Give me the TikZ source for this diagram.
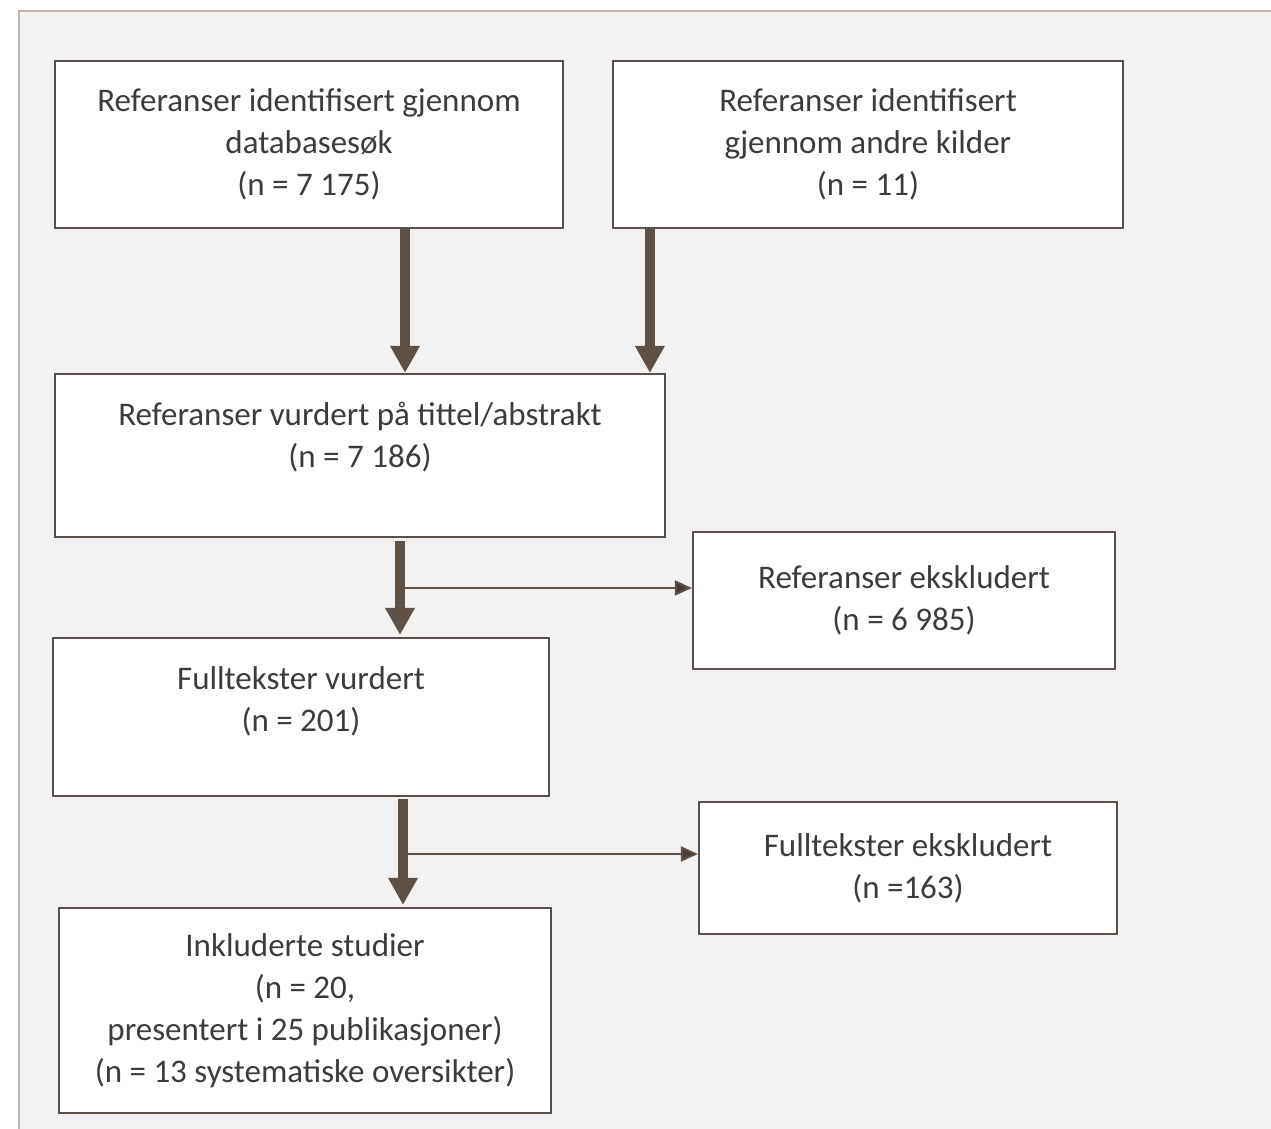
\documentclass[tikz,border=0pt]{standalone}
\usepackage{fontspec}
\setmainfont{Carlito}
\usepackage{xcolor}
\usepackage{tikz}
\definecolor{boxline}{RGB}{91, 79, 73}
\definecolor{arrowbrown}{RGB}{95, 80, 70}
\definecolor{tipbrown}{RGB}{74, 60, 52}
\definecolor{panelgray}{RGB}{242, 242, 242}
\definecolor{frameline}{RGB}{196, 180, 173}
\definecolor{textgray}{RGB}{60, 60, 60}
\usetikzlibrary{arrows.meta, positioning, calc}

\begin{document}
\begin{tikzpicture}[x=1pt, y=1pt,
    flowbox/.style={draw=boxline, fill=white, line width=2.2pt, align=center,
        text=textgray, font=\fontsize{33}{42}\selectfont, inner sep=0pt},
    mainarrow/.style={draw=arrowbrown, line width=10pt,
        -{Triangle[width=28pt, length=27pt, fill=arrowbrown]}},
    sidearrow/.style={draw=arrowbrown, line width=2pt,
        -{Triangle[width=15pt, length=17pt, fill=tipbrown]}}]
    \useasboundingbox (0,0) rectangle (1271,1129);
    % panel background
    \fill[panelgray] (19,0) rectangle (1271,1118);
    \draw[frameline, line width=2pt] (19,0) -- (19,1118) -- (1271,1118);

    % boxes
    \node[flowbox, minimum width=508pt, minimum height=167pt] (database) at (309,984.5)
        {Referanser identifisert gjennom\\databasesøk\\(n = 7 175)};
    \node[flowbox, minimum width=510pt, minimum height=167pt] (othersrc) at (868,984.5)
        {Referanser identifisert\\gjennom andre kilder\\(n = 11)};
    \node[flowbox, minimum width=610pt, minimum height=163pt, text depth=42pt] (screened) at (360,673.5)
        {Referanser vurdert på tittel/abstrakt\\(n = 7 186)};
    \node[flowbox, minimum width=422pt, minimum height=137pt] (exclref) at (904,528.5)
        {Referanser ekskludert\\(n = 6 985)};
    \node[flowbox, minimum width=496pt, minimum height=158pt, text depth=36pt] (fulltext) at (301,412)
        {Fulltekster vurdert\\(n = 201)};
    \node[flowbox, minimum width=418pt, minimum height=132pt] (exclfull) at (908,261)
        {Fulltekster ekskludert\\(n =163)};
    \node[flowbox, minimum width=492pt, minimum height=205pt] (included) at (305,118.5)
        {Inkluderte studier\\(n = 20,\\presentert i 25 publikasjoner)\\(n = 13 systematiske oversikter)};

    % junctions of the side arrows
    \coordinate (split1) at (400,541);
    \coordinate (split2) at (403,275);

    % arrows
    \draw[mainarrow] ([xshift=96pt]database.south) -- ([xshift=96pt]database.south |- screened.north);
    \draw[mainarrow] ([xshift=38pt]othersrc.south west) -- ([xshift=38pt]othersrc.south west |- screened.north);
    \draw[mainarrow] ([xshift=40pt, yshift=-3pt]screened.south) -- ([xshift=40pt, yshift=2pt]screened.south |- fulltext.north);
    \draw[sidearrow] (split1) -- (split1 -| exclref.west);
    \draw[mainarrow] ([xshift=102pt, yshift=-2pt]fulltext.south) -- ([xshift=102pt, yshift=2pt]fulltext.south |- included.north);
    \draw[sidearrow] (split2) -- (split2 -| exclfull.west);
\end{tikzpicture}
\end{document}
